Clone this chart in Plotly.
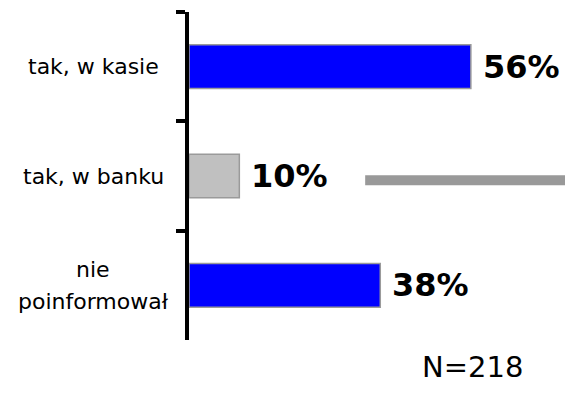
import plotly.graph_objects as go

# Survey answers (top to bottom) and their shares in percent
categories = ["tak, w kasie", "tak, w banku", "nie<br>poinformował"]
values = [56, 10, 38]
bar_colors = ["#0000FF", "#C0C0C0", "#0000FF"]
value_labels = ["56%", "10%", "38%"]
sample_note = "N=218"

FONT = "DejaVu Sans"
LINE_GAP = 32  # px between lines of a two-line category name

fig = go.Figure(
    go.Bar(
        x=values,
        y=categories,
        orientation="h",
        width=0.4,
        marker=dict(color=bar_colors, line=dict(color="#9A9A9A", width=1.5)),
        hoverinfo="skip",
    )
)

# bold value labels just to the right of each bar
for cat, val, lab in zip(categories, values, value_labels):
    fig.add_annotation(
        x=val, y=cat, xref="x", yref="y", text=f"<b>{lab}</b>",
        showarrow=False, xanchor="left", yanchor="middle", xshift=10,
        font=dict(family=FONT, size=32, color="#000000"),
    )

# category names, centred in the left margin (one annotation per line)
for cat in categories:
    lines = cat.split("<br>")
    n = len(lines)
    for i, line in enumerate(lines):
        fig.add_annotation(
            x=0, y=cat, xref="paper", yref="y", text=line,
            showarrow=False, xanchor="center", yanchor="middle",
            xshift=-96, yshift=((n - 1) / 2 - i) * LINE_GAP,
            font=dict(family=FONT, size=22, color="#000000"),
        )

# sample size note under the chart
fig.add_annotation(
    x=0.755, y=-0.025, xref="paper", yref="paper", text=sample_note,
    showarrow=False, xanchor="center", yanchor="top",
    font=dict(family=FONT, size=29, color="#000000"),
)

# grey rule beside the middle label
fig.add_shape(
    type="line", xref="x", yref="paper", x0=35, x1=74.7, y0=0.487, y1=0.487,
    line=dict(color="#999999", width=10),
)

fig.update_layout(
    width=565, height=405,
    margin=dict(l=189, r=0, t=12, b=65),
    paper_bgcolor="white", plot_bgcolor="white",
    showlegend=False,
    font=dict(family=FONT),
    xaxis=dict(range=[0, 74.7], visible=False, fixedrange=True),
    yaxis=dict(
        autorange="reversed",
        showline=True, linecolor="#000000", linewidth=3.5,
        ticks="outside", tickson="boundaries", ticklen=9, tickwidth=3.5,
        tickcolor="#000000", showticklabels=False, showgrid=False,
        zeroline=False, fixedrange=True,
    ),
)

fig.write_html("out.html")
